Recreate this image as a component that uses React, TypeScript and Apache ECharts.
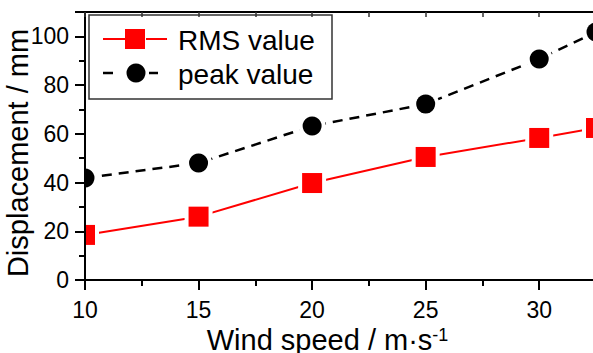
import React, { useEffect, useRef } from "react";
import * as echarts from "echarts";

const windSpeeds = [10, 15, 20, 25, 30, 32.5];
const rmsValues = [18.5, 26.0, 39.8, 50.5, 58.3, 62.4];
const peakValues = [41.9, 48.0, 63.2, 72.2, 90.7, 101.8];
const seriesNames = ["RMS value", "peak value"];
const xTitle = "Wind speed / m·s";
const xTitleSup = "-1";
const yTitle = "Displacement / mm";

const FONT = "'Liberation Sans', Arial, Helvetica, sans-serif";
const RED = "#ff0000";
const BLACK = "#000000";

function pairs(xs: number[], ys: number[]) {
  return xs.map((x, i) => [x, ys[i]]);
}

function markerSeries(data: number[][], kind: "square" | "circle", color: string) {
  return {
    type: "custom",
    clip: true,
    z: 3,
    encode: { x: 0, y: 1 },
    data,
    renderItem: (params: any, api: any) => {
      const p = api.coord([api.value(0), api.value(1)]);
      if (kind === "square") {
        return {
          type: "group",
          children: [
            { type: "rect", shape: { x: p[0] - 14, y: p[1] - 14, width: 28, height: 28 }, style: { fill: "#fff" } },
            { type: "rect", shape: { x: p[0] - 10, y: p[1] - 10, width: 20, height: 20 }, style: { fill: color } },
          ],
        };
      }
      return {
        type: "group",
        children: [
          { type: "circle", shape: { cx: p[0], cy: p[1], r: 13.5 }, style: { fill: "#fff" } },
          { type: "circle", shape: { cx: p[0], cy: p[1], r: 9.5 }, style: { fill: color } },
        ],
      };
    },
  };
}

export default function App() {
  const ref = useRef<HTMLDivElement>(null);
  useEffect(() => {
    if (!ref.current) return;
    const chart = echarts.init(ref.current, null, { renderer: "svg" });
    const rmsData = pairs(windSpeeds, rmsValues);
    const peakData = pairs(windSpeeds, peakValues);
    chart.setOption({
      animation: false,
      backgroundColor: "#fff",
      grid: { left: 85, right: -3, top: 12, bottom: 73, containLabel: false, outerBoundsMode: "none" },
      xAxis: [
        {
          type: "value",
          position: "bottom",
          min: 10,
          max: 32.5,
          interval: 5,
          z: 5,
          name: `{a|${xTitle}}{sup|${xTitleSup}}`,
          nameLocation: "middle",
          nameGap: 39,
          nameTextStyle: {
            padding: [0, 26, 0, 0],
            rich: {
              a: { fontSize: 29, fontFamily: FONT, color: BLACK },
              sup: { fontSize: 18, fontFamily: FONT, color: BLACK, verticalAlign: "top", padding: [0, 0, 10, 0] },
            },
          },
          axisLine: { show: true, onZero: false, lineStyle: { color: BLACK, width: 2 } },
          axisTick: { show: true, inside: false, length: 10, lineStyle: { color: BLACK, width: 2 } },
          minorTick: { show: true, splitNumber: 2, length: 6, lineStyle: { color: BLACK, width: 2 } },
          axisLabel: { fontSize: 23, fontFamily: FONT, color: BLACK, margin: 18, showMaxLabel: false },
          splitLine: { show: false },
          minorSplitLine: { show: false },
        },
        {
          type: "value",
          position: "top",
          min: 10,
          max: 32.5,
          interval: 2.5,
          z: 5,
          axisLine: { show: true, onZero: false, lineStyle: { color: BLACK, width: 2 } },
          axisTick: { show: true, inside: true, length: 5, lineStyle: { color: "#333", width: 1.5 } },
          axisLabel: { show: false },
          splitLine: { show: false },
        },
      ],
      yAxis: {
        type: "value",
        min: 0,
        max: 110,
        interval: 20,
        z: 5,
        axisLine: { show: true, onZero: false, lineStyle: { color: BLACK, width: 2 } },
        axisTick: { show: true, inside: false, length: 10, lineStyle: { color: BLACK, width: 2 } },
        minorTick: { show: true, splitNumber: 2, length: 6, lineStyle: { color: BLACK, width: 2 } },
        axisLabel: { fontSize: 23, fontFamily: FONT, color: BLACK, margin: 16, showMaxLabel: false },
        splitLine: { show: false },
        minorSplitLine: { show: false },
      },
      series: [
        {
          name: seriesNames[0],
          type: "line",
          data: rmsData,
          symbol: "none",
          clip: true,
          z: 2,
          lineStyle: { color: RED, width: 2 },
        },
        {
          name: seriesNames[1],
          type: "line",
          data: peakData,
          symbol: "none",
          clip: true,
          z: 2,
          lineStyle: { color: BLACK, width: 2.5, type: [10, 7] },
        },
        markerSeries(rmsData, "square", RED),
        markerSeries(peakData, "circle", BLACK),
      ],
      graphic: [
        {
          type: "text",
          x: 18,
          y: 153,
          rotation: Math.PI / 2,
          style: { text: yTitle, fontSize: 29, fontFamily: FONT, fill: BLACK, align: "center", verticalAlign: "middle" },
        },
        {
          type: "group",
          z: 10,
          children: [
            { type: "rect", shape: { x: 89, y: 15, width: 243, height: 84 }, style: { fill: "#fff", stroke: "#333", lineWidth: 1.5 } },
            { type: "line", shape: { x1: 103, y1: 39, x2: 125, y2: 39 }, style: { stroke: RED, lineWidth: 2 } },
            { type: "line", shape: { x1: 146, y1: 39, x2: 167, y2: 39 }, style: { stroke: RED, lineWidth: 2 } },
            { type: "rect", shape: { x: 125, y: 29, width: 20, height: 20 }, style: { fill: RED } },
            { type: "text", x: 178, y: 40, style: { text: seriesNames[0], fontSize: 28, fontFamily: FONT, fill: BLACK, verticalAlign: "middle", align: "left" } },
            { type: "line", shape: { x1: 103, y1: 73, x2: 113, y2: 73 }, style: { stroke: BLACK, lineWidth: 2.5 } },
            { type: "line", shape: { x1: 149, y1: 73, x2: 158, y2: 73 }, style: { stroke: BLACK, lineWidth: 2.5 } },
            { type: "circle", shape: { cx: 136, cy: 73, r: 9.5 }, style: { fill: BLACK } },
            { type: "text", x: 178, y: 74, style: { text: seriesNames[1], fontSize: 28, fontFamily: FONT, fill: BLACK, verticalAlign: "middle", align: "left" } },
          ],
        },
      ],
    });
    return () => chart.dispose();
  }, []);
  return (
    <div
      ref={ref}
      style={{ position: "fixed", left: 0, top: 0, width: 593, height: 353, background: "#fff", overflow: "hidden" }}
    />
  );
}
